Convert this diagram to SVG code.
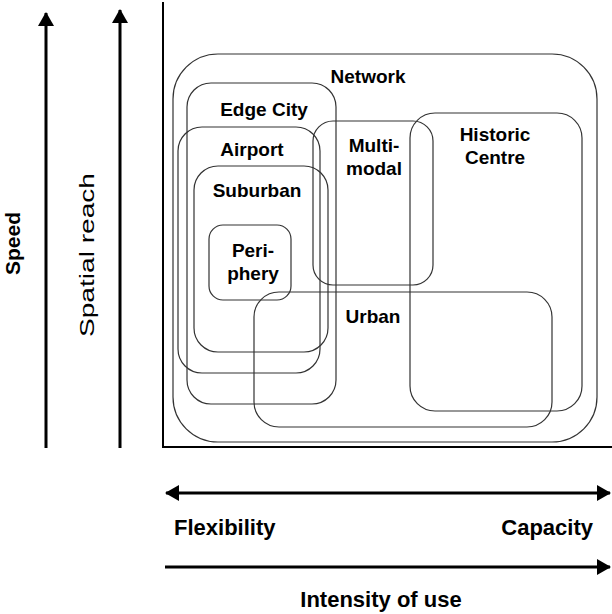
<svg xmlns="http://www.w3.org/2000/svg" width="612" height="614" viewBox="0 0 612 614">
<defs>
<marker id="ah" viewBox="0 0 14 16" refX="13" refY="8" markerWidth="14" markerHeight="16" markerUnits="userSpaceOnUse" orient="auto-start-reverse">
<path d="M0,0 L14,8 L0,16 Z" fill="#000"/>
</marker>
<style>
.box{fill:none;stroke:#333;stroke-width:1.2}
.lbl{font-family:"Liberation Sans",Arial,sans-serif;font-weight:bold;font-size:19px;fill:#000;text-anchor:middle}
.axl{font-family:"Liberation Sans",Arial,sans-serif;font-weight:bold;font-size:22px;fill:#000}
.arr{stroke:#000;stroke-width:3;fill:none}
</style>
</defs>
<rect width="612" height="614" fill="#fff"/>
<g id="axes">
<path d="M163,2 V447 H612" fill="none" stroke="#000" stroke-width="2"/>
</g>
<g id="network"><rect class="box" x="173" y="54" width="424" height="388" rx="45"/><text class="lbl" x="368" y="83">Network</text></g>
<g id="edge-city"><rect class="box" x="187" y="83" width="149" height="321" rx="24"/><text class="lbl" x="264" y="116">Edge City</text></g>
<g id="airport"><rect class="box" x="178" y="127" width="142" height="246" rx="24"/><text class="lbl" x="252" y="156">Airport</text></g>
<g id="suburban"><rect class="box" x="194" y="166" width="134" height="186" rx="24"/><text class="lbl" x="257" y="197">Suburban</text></g>
<g id="periphery"><rect class="box" x="209" y="225" width="82" height="75" rx="14"/><text class="lbl" x="253" y="257">Peri-</text><text class="lbl" x="253" y="280">phery</text></g>
<g id="multimodal"><rect class="box" x="313" y="121" width="120" height="164" rx="20"/><text class="lbl" x="374" y="152">Multi-</text><text class="lbl" x="374" y="175">modal</text></g>
<g id="historic-centre"><rect class="box" x="410" y="113" width="172" height="298" rx="25"/><text class="lbl" x="495" y="141">Historic</text><text class="lbl" x="495" y="164">Centre</text></g>
<g id="urban"><rect class="box" x="254" y="292" width="298" height="135" rx="25"/><text class="lbl" x="373" y="323">Urban</text></g>
<g id="connectors">
<line class="arr" x1="46" y1="448" x2="46" y2="13" marker-end="url(#ah)"/>
<line class="arr" x1="120" y1="448" x2="120" y2="10" marker-end="url(#ah)"/>
<line class="arr" x1="166" y1="493" x2="610" y2="493" marker-start="url(#ah)" marker-end="url(#ah)"/>
<line class="arr" x1="165" y1="567" x2="610" y2="567" marker-end="url(#ah)"/>
</g>
<g id="labels">
<text transform="translate(20,243.5) rotate(-90)" font-family="Liberation Sans, Arial, sans-serif" font-weight="bold" font-size="21" text-anchor="middle">Speed</text>
<text transform="translate(94,255) rotate(-90)" font-family="Liberation Sans, Arial, sans-serif" font-size="21" text-anchor="middle" textLength="164" lengthAdjust="spacingAndGlyphs">Spatial reach</text>
<text class="axl" x="174" y="535">Flexibility</text>
<text class="axl" x="593" y="535" text-anchor="end">Capacity</text>
<text class="axl" x="381" y="607" text-anchor="middle">Intensity of use</text>
</g>
</svg>
